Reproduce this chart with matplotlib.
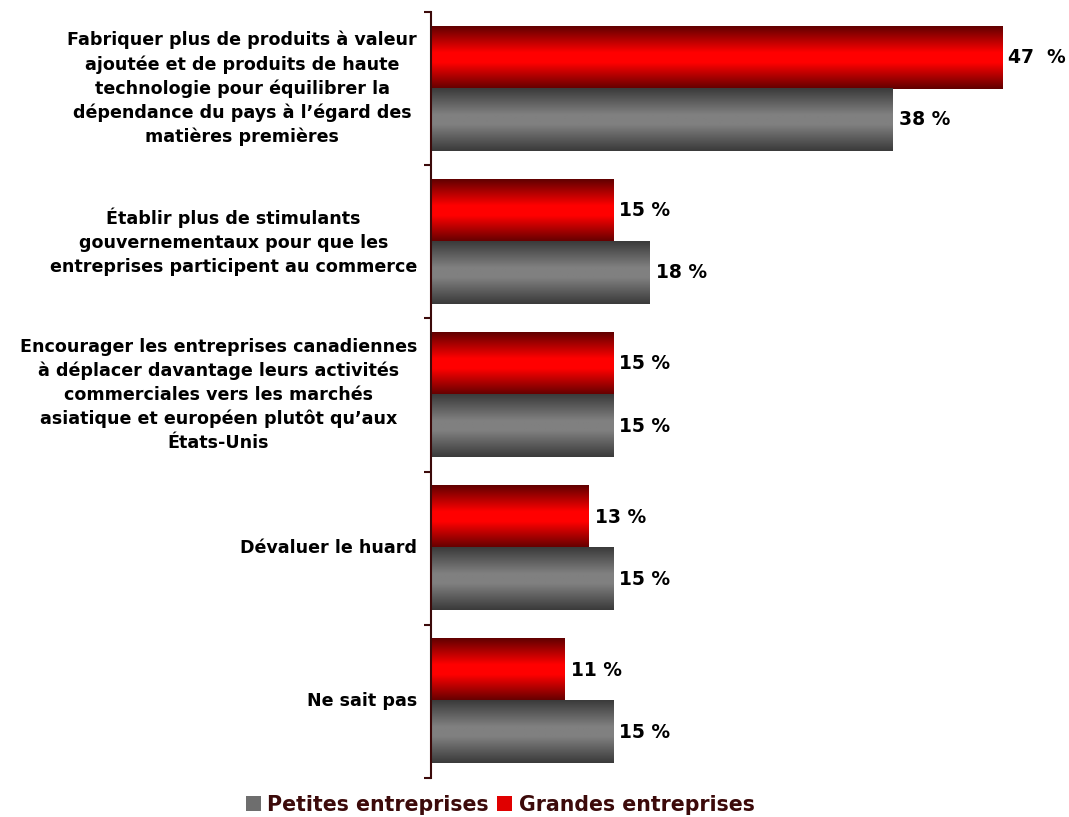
import numpy as np
import matplotlib.pyplot as plt
from matplotlib.patches import Rectangle
from matplotlib.colors import LinearSegmentedColormap

categories = [
    "Fabriquer plus de produits à valeur\najoutée et de produits de haute\ntechnologie pour équilibrer la\ndépendance du pays à l\u2019égard des\nmatières premières",
    "Établir plus de stimulants\ngouvernementaux pour que les\nentreprises participent au commerce",
    "Encourager les entreprises canadiennes\nà déplacer davantage leurs activités\ncommerciales vers les marchés\nasiatique et européen plutôt qu\u2019aux\nÉtats-Unis",
    "Dévaluer le huard",
    "Ne sait pas",
]
grandes = [47, 15, 15, 13, 11]
petites = [38, 18, 15, 15, 15]
grandes_labels = ["47  %", "15 %", "15 %", "13 %", "11 %"]
petites_labels = ["38 %", "18 %", "15 %", "15 %", "15 %"]

W, H = 1069, 817
DPI = 100
SPINE = "#3c0a0a"


def gradient_cmap(edge, mid):
    return LinearSegmentedColormap.from_list(
        "g", [(0.0, edge), (0.42, mid), (0.58, mid), (1.0, edge)])


red_cmap = gradient_cmap("#600000", "#ff0000")
grey_cmap = gradient_cmap("#3a3a3a", "#808080")
grad = np.linspace(0, 1, 256).reshape(-1, 1)


def fill_gradient(ax, bars, cmap):
    # paint a vertical shaded image inside each bar's rectangle
    for b in bars:
        x0, y0 = b.get_x(), b.get_y()
        w, h = b.get_width(), b.get_height()
        ax.imshow(grad, cmap=cmap, aspect="auto", extent=(x0, x0 + w, y0 + h, y0),
                  interpolation="bilinear", zorder=2)
        b.set_visible(False)


fig = plt.figure(figsize=(W / DPI, H / DPI), dpi=DPI)
ax = fig.add_axes([431 / W, 1 - 778 / H, 607.5 / W, 766 / H])

y = np.arange(len(categories))
bh = 0.405
red_bars = ax.barh(y - bh / 2, grandes, height=bh)
grey_bars = ax.barh(y + bh / 2, petites, height=bh)
fill_gradient(ax, red_bars, red_cmap)
fill_gradient(ax, grey_bars, grey_cmap)

for i in range(len(categories)):
    ax.text(grandes[i] + 0.5, y[i] - bh / 2, grandes_labels[i], va="center", ha="left",
            fontsize=13.5, fontweight="bold", color="black")
    ax.text(petites[i] + 0.5, y[i] + bh / 2, petites_labels[i], va="center", ha="left",
            fontsize=13.5, fontweight="bold", color="black")

ax.set_xlim(0, 50)
ax.set_ylim(len(categories) - 0.5, -0.5)
ax.set_yticks(y)
ax.set_yticklabels(categories, fontsize=12.6, fontweight="bold", va="center",
                   multialignment="center", linespacing=1.4)
ax.set_yticks(np.arange(-0.5, len(categories)), minor=True)
ax.tick_params(axis="y", which="major", length=0, pad=10)
ax.tick_params(axis="y", which="minor", length=5, width=1.5, color=SPINE, direction="out")
ax.set_xticks([])
for side in ["top", "right", "bottom"]:
    ax.spines[side].set_visible(False)
ax.spines["left"].set_color(SPINE)
ax.spines["left"].set_linewidth(1.5)

handles = [Rectangle((0, 0), 1, 1, facecolor="#6e6e6e", edgecolor="none"),
           Rectangle((0, 0), 1, 1, facecolor="#e00000", edgecolor="none")]
fig.legend(handles, ["Petites entreprises", "Grandes entreprises"], loc="center",
           bbox_to_anchor=(500 / W, 1 - 805 / H), ncol=2, frameon=False,
           prop={"size": 14.8, "weight": "bold"}, labelcolor="#3c0a0a",
           handlelength=0.75, handleheight=0.75, handletextpad=0.3, columnspacing=0.4)

fig.savefig("out.png", dpi=DPI)
